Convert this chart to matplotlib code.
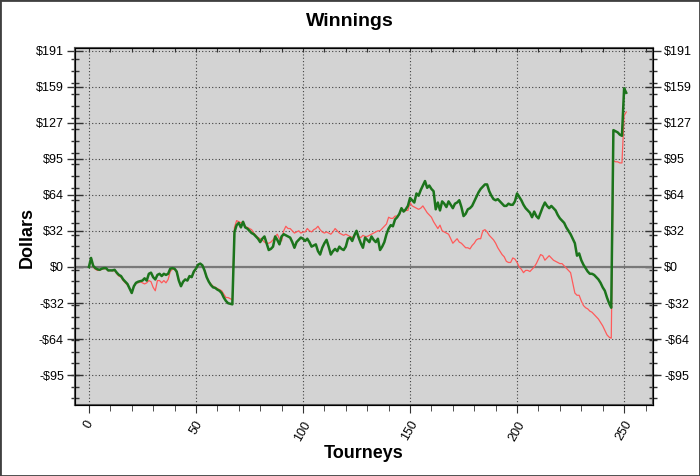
import numpy as np
import matplotlib
matplotlib.use('Agg')
import matplotlib.pyplot as plt
from matplotlib.patches import Rectangle

# winnings per tourney
green = [0, 8, 1, -1, -2, -2.5, -1.5, -1, -1, -3,
         -3, -3, -2.5, -5, -7, -8, -11, -13, -15, -19,
         -23, -17, -14, -13, -12.5, -12, -10, -12, -6, -5,
         -9, -11, -7, -6, -8, -6, -7, -6, -1.5, -1,
         -1.5, -4, -12, -17, -13, -11, -12, -8, -9, -4,
         -1.5, 2, 3, 1.5, -3, -9, -13, -16, -18, -18.5,
         -20, -21, -23, -27, -30, -32, -32.5, -33, 31, 37,
         39, 35, 40, 35, 34, 32, 30, 29, 27, 25,
         22, 25, 27, 21, 15, 16, 18, 27, 24, 20,
         27, 29, 28, 27, 26, 22, 17, 22, 24, 26,
         25, 23, 25, 22, 18, 19, 20, 14, 11, 17,
         21, 24, 18, 11, 14, 16, 14, 18, 16, 15,
         18, 25, 26, 23, 28, 32, 26, 21, 17, 26,
         24, 22, 27, 24, 22, 25, 15, 18, 22, 29,
         34, 37, 36, 42, 44, 47, 52, 49, 51, 54,
         61, 59, 57, 65, 63, 68, 72, 76, 70, 72,
         69, 67, 51, 57, 50, 58, 56, 53, 58, 55,
         52, 56, 57, 59, 53, 45, 47, 51, 52, 54,
         58, 62, 66, 69, 71, 73, 73, 67, 63, 60,
         59, 60, 58, 56, 54, 54, 56, 55, 55, 58,
         65, 62, 59, 55, 52, 50, 48, 44, 49, 45,
         43, 48, 53, 57, 54, 52, 54, 52, 50, 46,
         43, 41, 39, 35, 32, 29, 25, 21, 10, 12,
         6, 2, -1, -4, -6, -6, -7, -9, -11, -14,
         -18, -21, -27, -32, -36, 121, 120, 119, 117, 116,
         158, 154]

red = [0, 8, 0, -2, -3, -3, -2, -1.5, -1.5, -3.5,
       -3, -3.5, -3, -6, -8, -9, -12, -14, -16, -19,
       -23, -17, -14, -14, -13, -14, -15, -14, -12, -13,
       -18, -21, -12, -12, -14, -12, -14, -11, -4, -2,
       -2, -5, -12, -17, -13, -11, -12, -8, -9, -5,
       -1.5, 2, 3, 1.5, -3, -9, -13, -15, -17, -18,
       -19, -20, -21, -24, -27, -27, -28, -29, 35, 41,
       40, 39, 40, 36, 35, 34, 33, 30, 28, 26,
       25, 24, 22, 21, 21, 22, 24, 27, 29, 25,
       23, 32, 36, 34, 34, 32, 30, 31, 32, 30,
       31, 31, 34, 32, 31, 33, 34, 36, 33, 31,
       30, 31, 30, 29, 31, 34, 32, 30, 29, 28,
       29, 28, 27, 26, 28, 30, 27, 26, 28, 27,
       27, 28, 29, 30, 31, 32, 32, 34, 36, 38,
       44, 43, 43, 45, 45, 46, 51, 49, 50, 50,
       57, 54, 53, 52, 51, 52, 54, 51, 48, 46,
       44, 40, 37, 34, 37, 32, 31, 30, 29, 25,
       21, 23, 25, 22, 21, 19, 17, 17, 16, 19,
       21, 24, 25, 25, 32, 33, 31, 28, 26, 24,
       21, 17, 14, 11, 9, 5, 4, 4, 8, 7,
       4, 0, -2, -5, -3, -3, -4, -2, 0, 3,
       7, 11, 10, 6, 8, 10, 8, 6, 5, 4,
       3, 3, 1, -1, -3, -5, -14, -23, -25, -25,
       -30, -34, -36, -37, -39, -40, -42, -44, -46, -49,
       -52, -56, -60, -62, -63, 94, 93, 93, 92, 92,
       134, 137]

x_major = [0, 50, 100, 150, 200, 250]
y_major = [191 / 6 * k for k in range(-3, 7)]
y_labels = ['-$95', '-$64', '-$32', '$0', '$32', '$64', '$95', '$127', '$159', '$191']

plt.rcParams['font.family'] = ['Liberation Sans', 'DejaVu Sans']

fig = plt.figure(figsize=(7, 4.76), dpi=100)
ax = fig.add_axes([75 / 700, 1 - 405 / 476, (653 - 75) / 700, (405 - 48) / 476])
ax.set_facecolor('#d3d3d3')

n = np.arange(len(green))
ax.axhline(0, color='#787878', lw=1.6, zorder=2)
ax.plot(n, red, color='#ff5a5a', lw=0.9, zorder=3)
ax.plot(n, green, color='#1c741c', lw=1.8, zorder=4)

ax.set_xlim(-6.5, 263.5)
ax.set_ylim(-122, 193.6)

ax.set_xticks(x_major)
ax.set_xticks(np.arange(0, 261, 10), minor=True)
ax.set_xticklabels([str(v) for v in x_major], rotation=60)
ax.set_yticks(y_major)
ax.set_yticklabels(y_labels)
ax.set_yticks(183.7 - 10.34 * np.arange(30), minor=True)

ax.tick_params(axis='y', which='both', direction='inout', left=True, right=True,
               labelright=True, labelsize=9, color='#333333')
ax.tick_params(axis='y', which='major', length=12, width=1, pad=2)
ax.tick_params(axis='y', which='minor', length=6, width=1)
ax.tick_params(axis='x', which='major', direction='out', length=6, labelsize=9, pad=4, color='#333333')
ax.tick_params(axis='x', which='minor', direction='out', length=4, color='#333333')

ax.grid(True, which='major', color='#404040', linestyle=(0, (1, 2)), lw=0.8, zorder=1)
for s in ax.spines.values():
    s.set_color('#555555')
    s.set_linewidth(1.5)

# small ticks along the top edge
top = ax.twiny()
top.set_xlim(ax.get_xlim())
top.set_xticks(np.arange(0, 261, 10))
top.tick_params(axis='x', direction='in', length=3, labeltop=False, color='#333333')

fig.text(0.5, 1 - 22 / 476, 'Winnings', ha='center', va='center', fontsize=14, fontweight='bold')
fig.text(364 / 700, 1 - 453 / 476, 'Tourneys', ha='center', va='center', fontsize=13, fontweight='bold')
fig.text(27 / 700, 1 - 237 / 476, 'Dollars', ha='center', va='center', rotation=90,
         fontsize=13, fontweight='bold')

fig.add_artist(Rectangle((0, 0), 1, 1, transform=fig.transFigure, fill=False, ec='#404040', lw=2))

fig.savefig('out.png', dpi=100)
